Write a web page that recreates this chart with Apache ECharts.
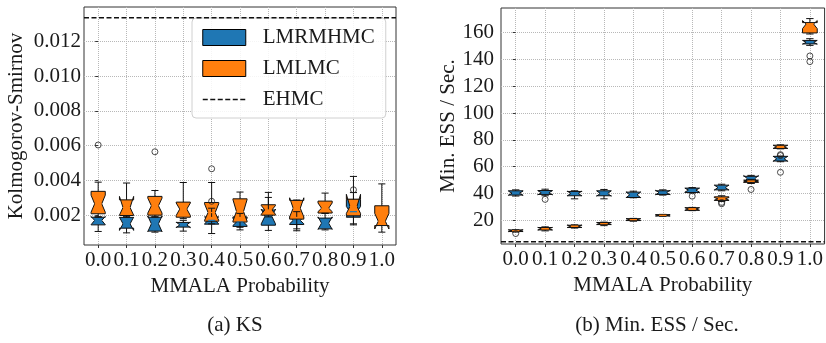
<!DOCTYPE html>
<html>
<head>
<meta charset="utf-8">
<script src="https://cdn.jsdelivr.net/npm/echarts@6/dist/echarts.min.js"></script>
<style>
html,body{margin:0;padding:0;background:#fff;}
#chart{width:826px;height:343px;}
</style>
</head>
<body>
<div id="chart"></div>
<script>
// ---------------- data ----------------
const categories = ['0.0','0.1','0.2','0.3','0.4','0.5','0.6','0.7','0.8','0.9','1.0'];
const ksTicks = [0.002, 0.004, 0.006, 0.008, 0.010, 0.012];
const essTicks = [20, 40, 60, 80, 100, 120, 140, 160];
const ehmc = [0.01337, 4.0]; // [KS, ESS/sec]

// KS - LMRMHMC (blue)
const ksBlueLow   = [0.00106,0.00098,0.00102,0.00108,0.00094,0.00115,0.00112,0.00110,0.00115,0.00144,null];
const ksBlueQ1    = [0.00144,0.00125,0.00108,0.00131,0.00148,0.00135,0.00142,0.00146,0.00121,0.00188,null];
const ksBlueMed   = [0.00170,0.00150,0.00150,0.00144,0.00170,0.00160,0.00192,0.00170,0.00154,0.00220,null];
const ksBlueQ3    = [0.00188,0.00187,0.00188,0.00158,0.00190,0.00190,0.00230,0.00190,0.00183,0.00290,null];
const ksBlueHigh  = [0.00190,0.00190,0.00190,0.00170,0.00240,0.00210,0.00302,0.00220,0.00210,0.00330,null];
const ksBlueNLo   = [0.00145,0.00112,0.00105,0.00128,0.00150,0.00140,0.00150,0.00150,0.00118,0.00190,null];
const ksBlueNHi   = [0.00192,0.00188,0.00195,0.00160,0.00190,0.00180,0.00235,0.00190,0.00190,0.00250,null];
const ksBlueOut   = [[4,0.00280],[9,0.00346]];

// KS - LMLMC (orange)
const ksOrangeLow  = [0.00190,0.00190,0.00190,0.00180,0.00150,0.00130,0.00190,0.00121,0.00210,0.00150,0.00102];
const ksOrangeQ1   = [0.00208,0.00198,0.00200,0.00188,0.00165,0.00160,0.00200,0.00177,0.00212,0.00196,0.00140];
const ksOrangeMed  = [0.00265,0.00244,0.00254,0.00235,0.00215,0.00221,0.00230,0.00240,0.00240,0.00250,0.00165];
const ksOrangeQ3   = [0.00337,0.00288,0.00308,0.00275,0.00273,0.00294,0.00260,0.00285,0.00281,0.00292,0.00254];
const ksOrangeHigh = [0.00390,0.00385,0.00342,0.00388,0.00388,0.00333,0.00331,0.00287,0.00327,0.00423,0.00380];
const ksOrangeNLo  = [0.00217,0.00200,0.00212,0.00198,0.00170,0.00165,0.00205,0.00190,0.00220,0.00210,0.00120];
const ksOrangeNHi  = [0.00315,0.00308,0.00298,0.00270,0.00265,0.00290,0.00255,0.00300,0.00270,0.00320,0.00210];
const ksOrangeOut  = [[0,0.00604],[2,0.00565],[4,0.00467]];

// Min ESS / Sec - LMRMHMC (blue)
const essBlueLow  = [38.1,38.3,36.0,36.0,36.8,38.8,40.4,42.0,47.5,63.7,150.5];
const essBlueQ1   = [38.8,39.3,38.3,38.3,37.0,39.3,40.7,42.7,48.5,64.2,151.6];
const essBlueMed  = [40.2,40.5,40.0,40.0,39.0,40.7,42.5,44.4,51.0,65.9,152.8];
const essBlueQ3   = [42.0,42.2,41.5,42.0,41.0,42.0,44.0,46.2,52.8,67.7,154.2];
const essBlueHigh = [42.7,43.2,42.0,43.0,41.7,42.7,44.4,46.9,53.5,67.9,155.5];
const essBlueNLo  = [38.6,38.9,38.2,38.0,36.8,39.0,41.0,42.5,48.6,64.0,151.4];
const essBlueNHi  = [41.8,42.1,41.8,42.0,41.2,42.4,44.0,46.3,53.4,67.8,154.2];
const essBlueOut  = [[1,35.6],[6,38.0],[9,55.8],[9,68.3],[9,69.0],[10,142.6],[10,138.4]];

// Min ESS / Sec - LMLMC (orange)
const essOrangeLow  = [11.2,12.1,14.2,16.0,19.3,23.0,27.2,34.0,47.8,73.3,159.0];
const essOrangeQ1   = [11.6,12.8,14.6,16.8,19.8,23.2,27.4,34.8,48.4,73.6,159.8];
const essOrangeMed  = [12.2,13.7,15.6,17.5,20.5,23.7,28.4,36.0,49.2,74.8,166.5];
const essOrangeQ3   = [12.8,14.6,16.3,18.3,21.2,24.2,29.4,37.5,49.9,76.0,167.5];
const essOrangeHigh = [12.9,15.1,16.6,18.6,21.4,24.4,29.6,38.3,50.5,76.3,170.5];
const essOrangeNLo  = [11.5,12.7,14.6,16.8,19.8,23.2,27.5,35.0,48.5,73.6,163.0];
const essOrangeNHi  = [12.9,14.7,16.5,18.3,21.2,24.2,29.4,37.0,50.0,76.0,169.0];
const essOrangeOut  = [[0,10.1],[7,33.3],[7,32.3],[8,43.0]];

// ---------------- styling ----------------
const BLUE = '#1f77b4', ORANGE = '#ff7f0e';
const FONT = 'Liberation Serif';
const TXT = '#1a1a1a';
const catIdx = categories.map((c, i) => i);

function pack(lo, q1, med, q3, hi, nlo, nhi) {
  const out = [];
  for (let i = 0; i < categories.length; i++) {
    if (med[i] == null) continue;
    out.push([i, lo[i], q1[i], med[i], q3[i], hi[i], nlo[i], nhi[i]]);
  }
  return out;
}

function boxRender(params, api) {
  const x = api.value(0);
  const p = (dx, v) => api.coord([x + dx, v]);
  const q1 = api.value(2), med = api.value(3), q3 = api.value(4), nlo = api.value(6), nhi = api.value(7);
  const W = 0.25, N = 0.125;
  const pts = [p(-W,q1), p(W,q1), p(W,nlo), p(N,med), p(W,nhi), p(W,q3), p(-W,q3), p(-W,nhi), p(-N,med), p(-W,nlo)];
  return {type:'polygon', shape:{points:pts}, style:{fill: api.visual('color'), stroke:'#111', lineWidth:1}};
}
function lineRender(color) {
  return function(params, api) {
    const x = api.value(0);
    const p = (dx, v) => api.coord([x + dx, v]);
    const lo = api.value(1), q1 = api.value(2), med = api.value(3), q3 = api.value(4), hi = api.value(5);
    const C = 0.125, N = 0.125;
    const seg = (a, b, col, w) => ({type:'line', shape:{x1:a[0], y1:a[1], x2:b[0], y2:b[1]}, style:{stroke: col, lineWidth: w}});
    return {type:'group', children:[
      seg(p(0,q1), p(0,lo), '#111', 1),
      seg(p(0,q3), p(0,hi), '#111', 1),
      seg(p(-C,lo), p(C,lo), '#111', 1),
      seg(p(-C,hi), p(C,hi), '#111', 1),
      seg(p(-N,med), p(N,med), color, 1.2)
    ]};
  };
}

function panelSeries(gi, blue, orange, blueOut, orangeOut, ehmcVal) {
  const common = {type:'custom', xAxisIndex:gi, yAxisIndex:gi, encode:{x:0, y:[1,2,3,4,5]}};
  return [
    Object.assign({}, common, {name:'LMRMHMC', z:2, renderItem:boxRender, data:blue, itemStyle:{color:BLUE, borderColor:'#000', borderWidth:1}}),
    Object.assign({}, common, {name:'LMLMC', z:2, renderItem:boxRender, data:orange, itemStyle:{color:ORANGE, borderColor:'#000', borderWidth:1}}),
    Object.assign({}, common, {name:'LMRMHMC', z:3, renderItem:lineRender(BLUE), data:blue, itemStyle:{color:BLUE}}),
    Object.assign({}, common, {name:'LMLMC', z:3, renderItem:lineRender(ORANGE), data:orange, itemStyle:{color:ORANGE}}),
    {type:'scatter', name:'LMRMHMC', xAxisIndex:gi, yAxisIndex:gi, z:4, symbol:'circle', symbolSize:6,
     itemStyle:{color:'rgba(0,0,0,0)', borderColor:'#222', borderWidth:1}, data:blueOut, silent:true},
    {type:'scatter', name:'LMLMC', xAxisIndex:gi, yAxisIndex:gi, z:4, symbol:'circle', symbolSize:6,
     itemStyle:{color:'rgba(0,0,0,0)', borderColor:'#222', borderWidth:1}, data:orangeOut, silent:true},
    {type:'line', name:'EHMC', xAxisIndex:gi, yAxisIndex:gi, z:5, symbol:'none', showSymbol:false,
     lineStyle:{color:'#111', width:1.5, type:[5,2.5]}, itemStyle:{color:'#111'},
     data:[[-0.5, ehmcVal],[10.5, ehmcVal]], silent:true}
  ];
}

function xAxisFor(gi) {
  return {
    type:'value', gridIndex:gi, min:-0.5, max:10.5,
    name:'MMALA Probability', nameLocation:'middle', nameGap:28,
    nameTextStyle:{fontFamily:FONT, fontSize:21, color:TXT},
    axisLine:{show:false},
    axisTick:{show:true, length:3, lineStyle:{color:'#333'}, customValues:catIdx},
    axisLabel:{customValues:catIdx, formatter:v => categories[Math.round(v)], fontFamily:FONT, fontSize:21, color:TXT, margin:5},
    splitLine:{show:true, lineStyle:{color:'#b8b8b8', type:'dotted', width:1}}
  };
}
function yAxisFor(gi, name, min, max, ticks, fmt, gap, margin) {
  return {
    type:'value', gridIndex:gi, min:min, max:max,
    name:name, nameLocation:'middle', nameGap:gap, nameRotate:90,
    nameTextStyle:{fontFamily:FONT, fontSize:21, color:TXT},
    axisLine:{show:false},
    axisTick:{show:true, length:3, lineStyle:{color:'#333'}, customValues:ticks},
    axisLabel:{customValues:ticks, formatter:fmt, fontFamily:FONT, fontSize:21, color:TXT, margin:margin},
    splitLine:{show:true, lineStyle:{color:'#b8b8b8', type:'dotted', width:1}}
  };
}

const chart = echarts.init(document.getElementById('chart'), null, {renderer:'canvas'});
const option = {
  backgroundColor:'#fff',
  animation:false,
  grid:[
    {left:84, top:7, width:312, height:238, show:true, borderColor:'#333', borderWidth:1, backgroundColor:'#fff'},
    {left:501, top:8, width:326, height:236, show:true, borderColor:'#333', borderWidth:1, backgroundColor:'#fff'}
  ],
  xAxis:[xAxisFor(0), xAxisFor(1)],
  yAxis:[
    yAxisFor(0, 'Kolmogorov-Smirnov', 0.00028, 0.01399, ksTicks, v => v.toFixed(3), 57, 3),
    yAxisFor(1, 'Min. ESS / Sec.', 2.3, 178.4, essTicks, v => String(Math.round(v)), 39, 7)
  ],
  legend:{
    orient:'vertical', left:192, top:18, padding:[9,11,8,10],
    itemWidth:43, itemHeight:16, itemGap:10,
    backgroundColor:'rgba(255,255,255,0.85)', borderColor:'#d0d0d0', borderWidth:1, borderRadius:4,
    textStyle:{fontFamily:FONT, fontSize:21, color:TXT, padding:[0,0,0,12]},
    data:[
      {name:'LMRMHMC', icon:'rect', itemStyle:{color:BLUE, borderColor:'#000', borderWidth:1}},
      {name:'LMLMC', icon:'rect', itemStyle:{color:ORANGE, borderColor:'#000', borderWidth:1}},
      {name:'EHMC', itemStyle:{color:'rgba(0,0,0,0)', borderColor:'rgba(0,0,0,0)', borderWidth:0, opacity:0},
       lineStyle:{color:'#111', width:1.5, type:[5,2.5]}}
    ],
    selectedMode:false
  },
  graphic:[
    {type:'text', x:235, y:325, style:{text:'(a) KS', fontFamily:FONT, fontSize:21, fill:TXT, textAlign:'center', textVerticalAlign:'middle'}},
    {type:'text', x:657, y:325, style:{text:'(b) Min. ESS / Sec.', fontFamily:FONT, fontSize:21, fill:TXT, textAlign:'center', textVerticalAlign:'middle'}}
  ],
  series:[].concat(
    panelSeries(0,
      pack(ksBlueLow, ksBlueQ1, ksBlueMed, ksBlueQ3, ksBlueHigh, ksBlueNLo, ksBlueNHi),
      pack(ksOrangeLow, ksOrangeQ1, ksOrangeMed, ksOrangeQ3, ksOrangeHigh, ksOrangeNLo, ksOrangeNHi),
      ksBlueOut, ksOrangeOut, ehmc[0]),
    panelSeries(1,
      pack(essBlueLow, essBlueQ1, essBlueMed, essBlueQ3, essBlueHigh, essBlueNLo, essBlueNHi),
      pack(essOrangeLow, essOrangeQ1, essOrangeMed, essOrangeQ3, essOrangeHigh, essOrangeNLo, essOrangeNHi),
      essBlueOut, essOrangeOut, ehmc[1])
  )
};
chart.setOption(option);
</script>
</body>
</html>
